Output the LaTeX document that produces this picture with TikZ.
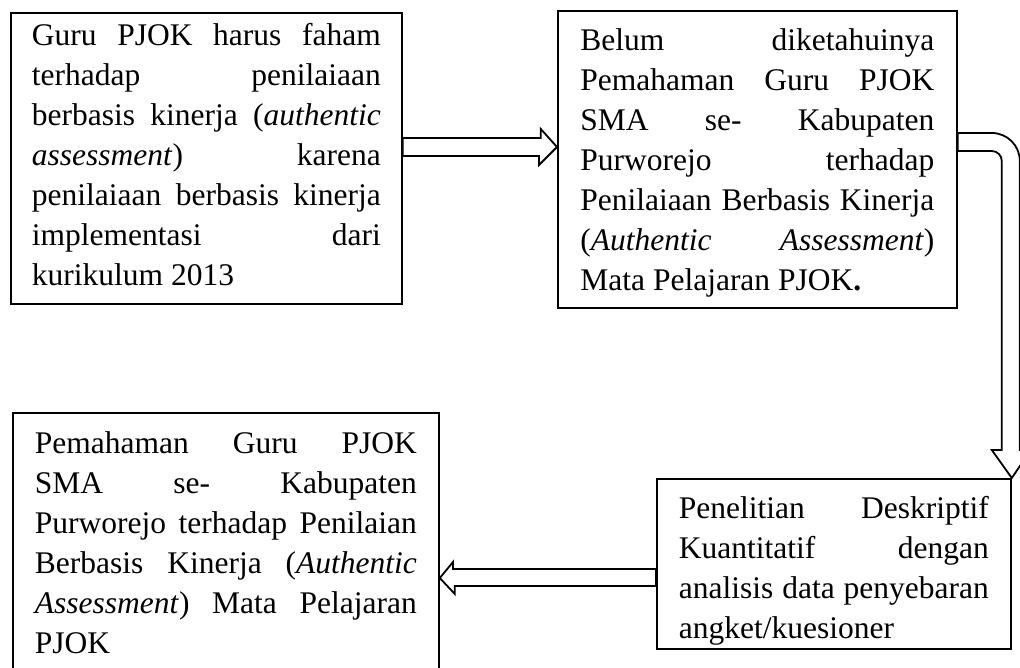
\documentclass[tikz,border=0pt]{standalone}
\usepackage{fontspec}
\setmainfont{Liberation Serif}
\usepackage{tikz}
\tolerance=10000
\hbadness=10000
\hyphenpenalty=10000

\begin{document}
\begin{tikzpicture}[x=1pt,y=-1pt,line width=1.8pt,
  kotak/.style={draw,anchor=north west,align=justify,inner ysep=0pt,
    font=\fontsize{31.5}{40}\selectfont},
  panah/.style={draw,fill=white,line join=miter}]
\useasboundingbox (0,0) rectangle (1020,668);
% kotak-kotak
\node[kotak,text width=349pt,inner xsep=21pt,text height=33pt,text depth=258pt]
  (guru) at (10,12)
  {Guru PJOK harus faham\linebreak terhadap penilaiaan\linebreak
   berbasis kinerja (\textit{authentic}\linebreak \textit{assessment}) karena\linebreak
   penilaiaan berbasis kinerja\linebreak implementasi dari\linebreak kurikulum 2013};
\node[kotak,text width=354pt,inner xsep=22.5pt,text height=40pt,text depth=257pt]
  (belum) at (557,10)
  {Belum diketahuinya\linebreak Pemahaman Guru PJOK\linebreak SMA se- Kabupaten\linebreak
   Purworejo terhadap\linebreak Penilaiaan Berbasis Kinerja\linebreak
   (\textit{Authentic Assessment})\linebreak Mata Pelajaran PJOK\textbf{.}};
\node[kotak,text width=310pt,inner xsep=22pt,text height=40pt,text depth=130pt]
  (teliti) at (656,478)
  {Penelitian Deskriptif\linebreak Kuantitatif dengan\linebreak
   analisis data penyebaran\linebreak angket/kuesioner};
\node[kotak,text width=382pt,inner xsep=22pt,text height=41pt,text depth=290pt]
  (paham) at (12,412)
  {Pemahaman Guru PJOK\linebreak SMA se- Kabupaten\linebreak
   Purworejo terhadap Penilaian\linebreak Berbasis Kinerja (\textit{Authentic}\linebreak
   \textit{Assessment}) Mata Pelajaran\linebreak PJOK};
% panah blok
\draw[panah] (guru.east |- 0,138) -- ++(138,0) -- ++(0,-9) -- (belum.west |- 0,147)
  -- ++(-18,18) -- ++(0,-9) -- (guru.east |- 0,156) -- cycle;
\draw[panah] (belum.east |- 0,133) -- ++(34,0)
  .. controls +(15.5,0) and +(0,-15.5) .. ++(28,28) -- ++(0,289) -- ++(11,0)
  -- (teliti.north east) -- ++(-20,-28) -- ++(10,0) -- ++(0,-289)
  .. controls +(0,-5.5) and +(5.5,0) .. ++(-10,-10) -- (belum.east |- 0,151) -- cycle;
\draw[panah] (teliti.west |- 0,569) -- ++(-203,0) -- ++(0,-7) -- (paham.east |- 0,578)
  -- ++(15,16) -- ++(0,-8) -- (teliti.west |- 0,586) -- cycle;
\end{tikzpicture}
\end{document}
